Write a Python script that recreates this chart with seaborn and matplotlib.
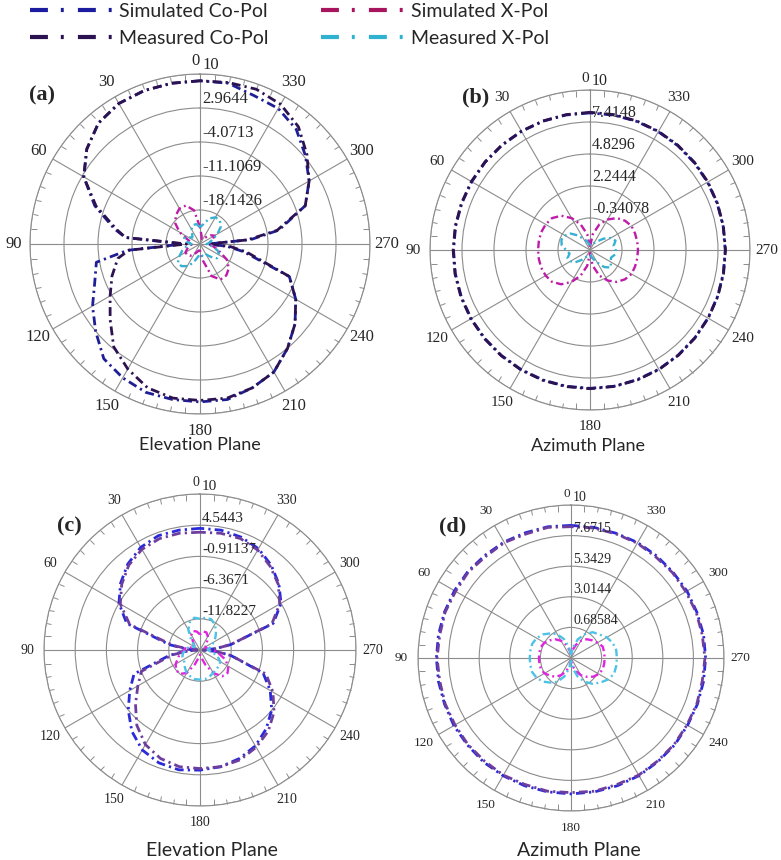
import numpy as np
import matplotlib
matplotlib.use("Agg")
import matplotlib.pyplot as plt
import seaborn as sns
from matplotlib.lines import Line2D

# ==========================================
# Radiation patterns (dB)
# ==========================================
ang_elev = [0, 10, 20, 30, 40, 50, 60, 70, 80, 85, 90, 95, 100, 110, 120, 130, 140, 150,
            160, 170, 180, 190, 200, 210, 220, 230, 240, 250, 260, 265, 270, 275, 280,
            290, 300, 310, 320, 330, 340, 350, 360]
ang_azim = list(range(0, 361, 10))

theta_labels = ['0', '30', '60', '90', '120', '150', '180', '210', '240', '270', '300', '330']
series_names = ['Simulated Co-Pol', 'Measured Co-Pol', 'Simulated X-Pol', 'Measured X-Pol']

# (a) elevation plane
rings_a = [-25.1783, -18.1426, -11.1069, -4.0713, 2.9644, 10]
ring_labels_a = ['-18.1426', '-11.1069', '-4.0713', '2.9644', '10']
sim_co_a = [8.6, 8.6, 8.6, 8.4, 7.5, 5.4, 2.6, -2.0, -7.2, -9.7, -21.7, -10.1, -3.4, -2.0, 0.5,
            3.0, 5.8, 6.8, 7.5, 7.5, 7.5, 7.5, 6.5, 5.4, 3.0, 0.5, -2.3, -5.5, -16.0, -19.5,
            -23.4, -14.6, -8.6, -2.0, 0.9, 3.3, 5.8, 7.2, 7.5, 8.6, 8.6]
meas_co_a = [8.6, 8.6, 8.6, 8.4, 7.5, 5.4, 2.6, -2.3, -7.6, -9.7, -22.4, -10.4, -7.9, -5.8, -3.7,
             -0.9, 2.6, 4.7, 6.5, 7.2, 7.2, 7.2, 6.5, 5.4, 3.0, 0.5, -2.3, -5.5, -15.3, -18.8,
             -23.4, -15.3, -9.0, -2.0, 0.9, 3.7, 6.5, 8.2, 8.9, 8.75, 8.6]
sim_x_a = [-21.7, -18.1, -16.7, -16.7, -17.4, -18.5, -20.3, -22.4, -23.4, -23.4, -23.4, -23.4,
           -23.1, -22.4, -21.7, -21.7, -22.0, -22.7, -23.4, -23.8, -23.8, -21.7, -18.1, -16.7,
           -16.7, -17.4, -18.8, -21.0, -22.4, -23.1, -23.4, -23.4, -23.1, -22.4, -21.7, -22.4,
           -23.4, -23.8, -24.1, -23.4, -21.7]
meas_x_a = [-21.7, -21.0, -21.0, -21.7, -22.7, -23.1, -22.4, -21.7, -22.4, -23.1, -23.4, -23.1,
            -22.4, -21.3, -20.3, -19.2, -19.2, -19.9, -21.0, -22.4, -23.1, -22.7, -22.4, -22.7,
            -21.7, -20.6, -20.6, -21.3, -22.7, -23.4, -23.8, -23.4, -23.1, -22.4, -21.0, -19.55,
            -18.8, -18.8, -19.55, -21.0, -21.7]

# (b) azimuth plane
rings_b = [-2.9259, -0.34078, 2.2444, 4.8296, 7.4148, 10]
ring_labels_b = ['-0.34078', '2.2444', '4.8296', '7.4148', '10']
sim_co_b = [8.15, 8.15, 8.15, 8.14, 8.13, 8.12, 8.11, 8.1, 8.1, 8.1, 8.12, 8.14, 8.16, 8.18, 8.2,
            8.22, 8.24, 8.25, 8.25, 8.25, 8.22, 8.2, 8.16, 8.12, 8.08, 8.04, 8.01, 8.0, 8.0,
            8.02, 8.04, 8.06, 8.09, 8.11, 8.13, 8.14, 8.15]
meas_co_b = [8.2, 8.18, 8.17, 8.16, 8.15, 8.15, 8.14, 8.13, 8.13, 8.13, 8.15, 8.17, 8.19, 8.21,
             8.23, 8.25, 8.27, 8.28, 8.28, 8.27, 8.25, 8.22, 8.18, 8.14, 8.1, 8.06, 8.03, 8.02,
             8.02, 8.04, 8.07, 8.09, 8.12, 8.14, 8.16, 8.18, 8.2]
sim_x_b = [-2.67, -1.63, -0.73, 0.05, 0.69, 1.08, 1.21, 1.27, 1.27, 1.27, 1.27, 1.27, 1.21, 1.08,
           0.69, 0.05, -0.73, -1.63, -2.67, -1.63, -0.73, -0.08, 0.44, 0.76, 0.95, 0.95, 0.95,
           0.95, 0.95, 0.95, 0.95, 0.76, 0.44, -0.08, -0.73, -1.63, -2.67]
meas_x_b = [-2.54, -2.41, -2.15, -1.89, -1.38, -0.86, -0.6, -0.47, -0.6, -0.99, -1.25, -0.99,
            -1.12, -1.38, -1.89, -2.28, -2.41, -2.54, -2.54, -2.41, -2.15, -1.76, -1.12, -0.73,
            -0.99, -1.12, -0.86, -0.86, -0.99, -0.73, -0.99, -1.5, -2.02, -2.28, -2.41, -2.54,
            -2.54]

# (c) elevation plane
rings_c = [-17.2784, -11.8227, -6.3671, -0.91137, 4.5443, 10]
ring_labels_c = ['-11.8227', '-6.3671', '-0.91137', '4.5443', '10']
sim_co_c = [4.0, 4.0, 4.0, 3.45, 2.36, 0.86, -0.91, -3.64, -11.82, -14.55, -16.73, -14.55,
            -11.82, -5.0, -3.09, -0.91, 1.27, 2.91, 3.73, 4.0, 3.73, 3.45, 2.91, 2.09, 0.72,
            -0.91, -3.09, -5.55, -11.82, -14.55, -16.73, -14.55, -11.82, -3.64, -0.91, 0.72,
            2.09, 3.18, 3.73, 4.0, 4.0]
meas_co_c = [3.32, 3.45, 3.45, 3.04, 2.09, 0.59, -1.19, -4.19, -12.37, -15.1, -16.73, -15.1,
             -12.37, -6.37, -4.73, -2.55, -0.09, 1.82, 2.91, 3.45, 3.45, 3.45, 3.18, 2.36, 1.27,
             -0.37, -2.55, -5.0, -11.82, -14.55, -16.73, -14.55, -11.82, -3.91, -1.19, 0.59,
             1.82, 2.91, 3.45, 3.45, 3.32]
sim_x_c = [-14.55, -14.0, -13.73, -14.28, -15.37, -15.91, -16.19, -15.91, -15.1, -14.55, -14.55,
           -14.28, -13.73, -13.19, -12.37, -11.82, -11.82, -12.64, -14.55, -15.91, -16.46,
           -15.91, -14.55, -12.64, -11.28, -11.0, -11.55, -12.64, -14.0, -14.55, -15.1, -15.64,
           -15.91, -16.19, -16.19, -15.91, -15.37, -14.55, -14.0, -14.0, -14.55]
meas_x_c = [-11.82, -11.55, -12.1, -13.19, -14.83, -15.91, -16.19, -15.64, -15.1, -14.83, -14.55,
            -14.55, -14.28, -14.0, -14.0, -13.73, -13.19, -12.64, -12.37, -12.1, -12.1, -12.1,
            -12.37, -12.64, -12.91, -12.91, -13.19, -14.0, -15.1, -15.64, -15.91, -15.91,
            -15.64, -15.1, -14.55, -13.73, -12.91, -12.1, -11.55, -11.55, -11.82]

# (d) azimuth plane
rings_d = [-1.6428, 0.68584, 3.0144, 5.3429, 7.6715, 10]
ring_labels_d = ['0.68584', '3.0144', '5.3429', '7.6715', '10']
sim_co_d = [8.45, 8.5, 8.5, 8.55, 8.55, 8.6, 8.6, 8.6, 8.6, 8.6, 8.6, 8.6, 8.65, 8.65, 8.7, 8.7,
            8.7, 8.7, 8.7, 8.7, 8.7, 8.7, 8.65, 8.65, 8.6, 8.6, 8.6, 8.6, 8.6, 8.55, 8.55, 8.5,
            8.5, 8.5, 8.45, 8.45, 8.45]
meas_co_d = [8.35, 8.45, 8.4, 8.5, 8.45, 8.55, 8.5, 8.55, 8.5, 8.55, 8.5, 8.55, 8.55, 8.6, 8.6,
             8.65, 8.6, 8.65, 8.6, 8.65, 8.6, 8.65, 8.6, 8.6, 8.55, 8.55, 8.5, 8.55, 8.5, 8.5,
             8.45, 8.45, 8.4, 8.45, 8.4, 8.4, 8.35]
sim_x_d = [-1.41, -1.06, -0.59, -0.13, 0.22, 0.45, 0.69, 0.8, 0.8, 0.8, 0.8, 0.8, 0.69, 0.45,
           0.22, -0.13, -0.59, -1.06, -1.41, -1.06, -0.59, -0.13, 0.22, 0.57, 0.8, 0.92, 0.92,
           0.92, 0.92, 0.92, 0.69, 0.45, 0.22, -0.13, -0.59, -1.06, -1.41]
meas_x_d = [-1.41, -0.83, -0.13, 0.45, 0.8, 1.15, 1.38, 1.5, 1.5, 1.5, 1.5, 1.5, 1.38, 1.15, 0.8,
            0.45, -0.13, -0.83, -1.41, -0.83, -0.13, 0.45, 0.92, 1.27, 1.62, 1.85, 1.85, 1.85,
            1.85, 1.73, 1.5, 1.15, 0.92, 0.45, -0.13, -0.83, -1.41]

# =======================================
# Styling
# =======================================
sns.set_style("white")
plt.rcParams['font.family'] = ['Liberation Serif', 'DejaVu Serif']

legend_colors = ['#1c1ca0', '#2b1252', '#a8145e', '#2fb2d0']
top_colors = ['#1e1e96', '#2c1250', '#c01aa8', '#38b0d2']
bottom_colors = ['#2a2ad8', '#6e3e9e', '#e024e0', '#4cc2e6']
dash_dot = (0, (3.2, 1.5, 0.8, 1.5))
grid_col = '#8c8c8c'

W, H = 781, 860
fig = plt.figure(figsize=(W / 100, H / 100), dpi=100)


def draw_panel(cx, cy, R, ang, rings, ring_txt, series, colors, tick_fs, rlab_fs):
    ax = fig.add_axes([(cx - R) / W, 1 - (cy + R) / H, 2 * R / W, 2 * R / H],
                      projection='polar')
    theta = np.deg2rad(ang)
    for i, (vals, col) in enumerate(zip(series, colors)):
        sns.lineplot(x=theta, y=vals, ax=ax, sort=False, estimator=None,
                     color=col, lw=2.0 if i < 2 else 1.7, linestyle=dash_dot)
    ax.set_theta_zero_location('N')
    ax.set_theta_direction(1)
    ax.set_ylim(rings[0], rings[-1])
    ax.set_yticks(rings[1:])
    ax.set_yticklabels([])
    ax.set_xticks(np.deg2rad(np.arange(0, 360, 30)))
    ax.set_xticklabels([''] + theta_labels[1:], fontsize=tick_fs)
    ax.set_xticks(np.deg2rad(np.arange(0, 360, 5)), minor=True)
    ax.tick_params(axis='x', which='major', length=0, pad=5)
    # tick2 sits on the outer ring, tick1 would pile up at the centre
    ax.tick_params(axis='x', which='minor', length=4, width=0.7, color=grid_col,
                   direction='in', bottom=False, top=True)
    ax.grid(True, which='major', color=grid_col, lw=0.8)
    ax.spines['polar'].set_color(grid_col)
    ax.spines['polar'].set_linewidth(0.8)
    ax.set_xlabel('')
    ax.set_ylabel('')
    for r, t in zip(rings[1:], ring_txt):
        ax.annotate(t, xy=(0, r), xytext=(1.5, 0.5), textcoords='offset points',
                    ha='left', va='bottom', fontsize=rlab_fs, annotation_clip=False)
    ax.annotate('0', xy=(0, rings[-1]), xytext=(-0.5, 3.5), textcoords='offset points',
                ha='right', va='bottom', fontsize=tick_fs, annotation_clip=False)
    return ax


draw_panel(200, 244, 170, ang_elev, rings_a, ring_labels_a,
           [sim_co_a, meas_co_a, sim_x_a, meas_x_a], top_colors, 12, 12)
draw_panel(590, 250, 160, ang_azim, rings_b, ring_labels_b,
           [sim_co_b, meas_co_b, sim_x_b, meas_x_b], top_colors, 11, 11.5)
draw_panel(200, 650, 156, ang_elev, rings_c, ring_labels_c,
           [sim_co_c, meas_co_c, sim_x_c, meas_x_c], bottom_colors, 10, 11)
draw_panel(571, 658, 153, ang_azim, rings_d, ring_labels_d,
           [sim_co_d, meas_co_d, sim_x_d, meas_x_d], bottom_colors, 9.5, 10)

# panel tags and plane titles
for tag, x, y in [('(a)', 42, 95), ('(b)', 476, 97), ('(c)', 69, 526), ('(d)', 453, 526)]:
    fig.text(x / W, 1 - y / H, tag, ha='center', va='center', fontsize=16, fontweight='bold')

for txt, x, y, fs in [('Elevation Plane', 200, 445, 13), ('Azimuth Plane', 588, 446, 13),
                      ('Elevation Plane', 212, 850, 14), ('Azimuth Plane', 579, 850, 14)]:
    fig.text(x / W, 1 - y / H, txt, ha='center', va='center', fontsize=fs, family='Lato')

# legend
handles = [Line2D([], [], color=c, lw=3, linestyle=(0, (4.3, 3.1, 0.7, 3.4)))
           for c in legend_colors]
fig.legend(handles, series_names, loc='upper left', bbox_to_anchor=(30 / W, 1 - 3 / H),
           ncol=2, frameon=False, borderpad=0, borderaxespad=0,
           prop={'family': 'Lato', 'size': 14}, handlelength=4.3, handletextpad=0.3,
           columnspacing=2.7, labelspacing=0.5)

fig.savefig('out.png', dpi=100)
